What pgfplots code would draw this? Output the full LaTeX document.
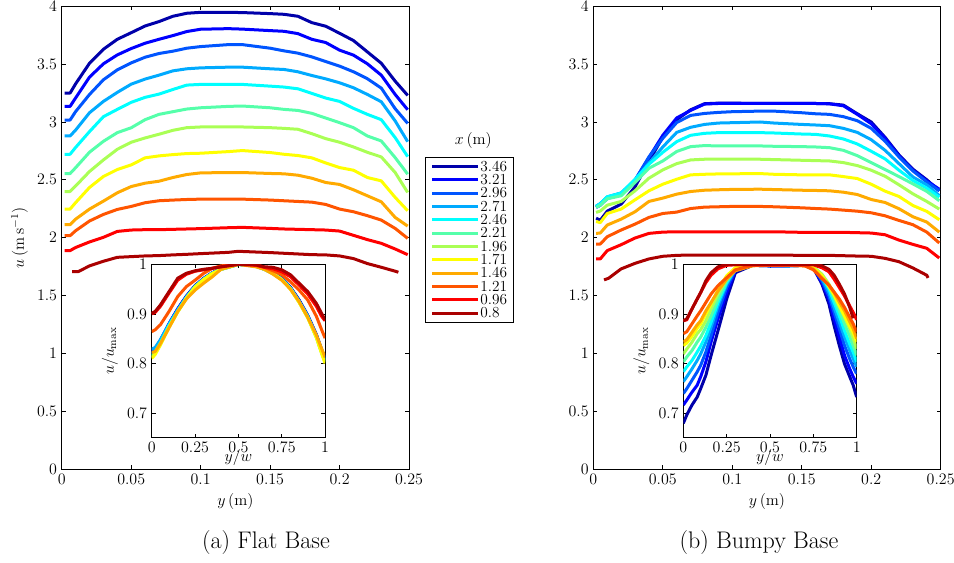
\documentclass[border=0pt]{standalone}
\usepackage{pgfplots}
\usepackage{pgfplotstable}
\pgfplotsset{compat=1.18}
\definecolor{j1}{rgb}{0,0,0.6667}
\definecolor{j2}{rgb}{0,0,1}
\definecolor{j3}{rgb}{0,0.3333,1}
\definecolor{j4}{rgb}{0,0.6667,1}
\definecolor{j5}{rgb}{0,1,1}
\definecolor{j6}{rgb}{0.3333,1,0.6667}
\definecolor{j7}{rgb}{0.6667,1,0.3333}
\definecolor{j8}{rgb}{1,1,0}
\definecolor{j9}{rgb}{1,0.6667,0}
\definecolor{j10}{rgb}{1,0.3333,0}
\definecolor{j11}{rgb}{1,0,0}
\definecolor{j12}{rgb}{0.6667,0,0}
\newcommand{\fs}{\fontsize{11.5}{13}\selectfont}

\pgfplotstableread{
x c1 c2 c3 c4 c5 c6 c7 c8 c9 c10 c11
0.002 3.250 3.135 3.017 2.879 2.721 2.554 2.399 2.247 2.112 2.017 1.888
0.006 3.250 3.135 3.017 2.879 2.721 2.554 2.399 2.247 2.112 2.017 1.888
0.010 3.330 3.208 3.090 2.930 2.780 2.605 2.447 2.303 2.160 2.060 1.915
0.020 3.508 3.388 3.238 3.080 2.917 2.739 2.572 2.434 2.247 2.144 1.963
0.030 3.629 3.503 3.365 3.178 3.046 2.833 2.672 2.529 2.316 2.201 2.003
0.040 3.715 3.580 3.451 3.256 3.109 2.908 2.764 2.589 2.388 2.244 2.054
0.050 3.772 3.635 3.511 3.327 3.170 2.950 2.825 2.629 2.442 2.270 2.066
0.060 3.830 3.681 3.560 3.371 3.213 3.020 2.862 2.690 2.471 2.302 2.069
0.070 3.868 3.715 3.592 3.405 3.241 3.066 2.894 2.707 2.488 2.319 2.069
0.080 3.914 3.747 3.612 3.442 3.281 3.089 2.928 2.718 2.520 2.325 2.072
0.090 3.940 3.782 3.638 3.460 3.319 3.112 2.951 2.727 2.546 2.330 2.075
0.100 3.948 3.802 3.652 3.468 3.325 3.123 2.957 2.730 2.560 2.333 2.078
0.120 3.948 3.807 3.669 3.474 3.325 3.135 2.957 2.744 2.563 2.333 2.086
0.130 3.946 3.803 3.669 3.474 3.325 3.138 2.957 2.753 2.563 2.333 2.089
0.150 3.937 3.790 3.638 3.460 3.310 3.123 2.951 2.736 2.555 2.325 2.080
0.160 3.931 3.784 3.615 3.454 3.302 3.109 2.945 2.721 2.552 2.319 2.075
0.170 3.914 3.764 3.595 3.434 3.287 3.100 2.937 2.710 2.540 2.313 2.072
0.180 3.859 3.715 3.563 3.402 3.247 3.075 2.899 2.690 2.514 2.307 2.069
0.190 3.828 3.687 3.523 3.373 3.207 3.034 2.856 2.646 2.477 2.287 2.066
0.200 3.767 3.621 3.483 3.339 3.178 2.994 2.825 2.606 2.460 2.247 2.057
0.210 3.704 3.578 3.434 3.296 3.118 2.951 2.784 2.583 2.414 2.224 2.020
0.220 3.606 3.503 3.374 3.238 3.066 2.879 2.738 2.520 2.362 2.190 1.983
0.230 3.508 3.405 3.293 3.175 3.020 2.836 2.698 2.491 2.310 2.152 1.951
0.240 3.353 3.238 3.115 3.009 2.865 2.692 2.563 2.348 2.175 2.080 1.902
0.249 3.230 3.106 2.988 2.830 2.701 2.549 2.391 2.233 2.100 1.994 1.853
}\flatmain

\pgfplotstableread{
x c1 c2 c3 c4 c5 c6 c7 c8 c9 c10 c11
0.002 2.169 2.261 2.267 2.273 2.270 2.261 2.218 2.140 2.037 1.945 1.816
0.005 2.150 2.280 2.290 2.295 2.292 2.280 2.230 2.130 2.040 1.945 1.816
0.010 2.229 2.339 2.347 2.353 2.353 2.336 2.281 2.209 2.109 2.008 1.888
0.020 2.290 2.370 2.382 2.387 2.385 2.362 2.313 2.247 2.160 2.066 1.939
0.030 2.439 2.497 2.497 2.497 2.505 2.477 2.405 2.327 2.224 2.117 1.997
0.040 2.660 2.692 2.698 2.646 2.635 2.600 2.514 2.405 2.313 2.175 2.037
0.050 2.870 2.885 2.859 2.784 2.738 2.663 2.586 2.462 2.342 2.209 2.048
0.060 3.020 3.035 2.995 2.910 2.830 2.745 2.640 2.505 2.376 2.221 2.051
0.070 3.105 3.100 3.057 2.954 2.885 2.787 2.672 2.543 2.399 2.252 2.051
0.080 3.158 3.155 3.074 2.979 2.902 2.796 2.678 2.548 2.410 2.264 2.051
0.090 3.163 3.160 3.083 2.991 2.908 2.793 2.678 2.551 2.414 2.267 2.051
0.100 3.163 3.160 3.089 2.994 2.908 2.793 2.678 2.552 2.417 2.270 2.051
0.120 3.160 3.160 3.094 3.000 2.908 2.793 2.678 2.554 2.419 2.270 2.051
0.130 3.160 3.160 3.094 2.991 2.905 2.790 2.675 2.548 2.416 2.267 2.051
0.150 3.160 3.160 3.080 2.979 2.896 2.787 2.669 2.543 2.410 2.258 2.046
0.160 3.160 3.160 3.071 2.974 2.893 2.784 2.666 2.543 2.408 2.252 2.046
0.170 3.158 3.157 3.066 2.968 2.879 2.778 2.663 2.543 2.405 2.247 2.046
0.180 3.146 3.140 3.046 2.945 2.853 2.755 2.649 2.528 2.393 2.238 2.046
0.190 3.071 3.066 3.011 2.910 2.810 2.709 2.623 2.511 2.373 2.229 2.043
0.200 3.000 2.985 2.945 2.847 2.747 2.649 2.583 2.462 2.330 2.215 2.040
0.210 2.867 2.859 2.833 2.755 2.681 2.589 2.531 2.402 2.304 2.189 2.025
0.220 2.715 2.706 2.698 2.640 2.583 2.528 2.457 2.356 2.250 2.149 1.979
0.230 2.592 2.583 2.577 2.525 2.494 2.465 2.379 2.278 2.181 2.112 1.942
0.240 2.500 2.491 2.482 2.456 2.428 2.400 2.313 2.227 2.135 2.048 1.908
0.249 2.405 2.419 2.405 2.364 2.350 2.319 2.247 2.155 2.048 1.954 1.824
}\bumpymain

\pgfplotstableread{
x c1 c2 c3 c4 c5 c6 c7 c8 c9 c10 c11 c12
0.00 0.820 0.822 0.825 0.829 0.818 0.815 0.812 0.810 0.822 0.864 0.900 0.901
0.02 0.826 0.828 0.830 0.832 0.824 0.822 0.820 0.818 0.824 0.868 0.903 0.905
0.05 0.845 0.846 0.847 0.848 0.842 0.840 0.838 0.837 0.840 0.878 0.915 0.918
0.10 0.880 0.880 0.880 0.879 0.877 0.875 0.874 0.873 0.872 0.905 0.942 0.945
0.15 0.910 0.910 0.909 0.908 0.906 0.905 0.904 0.904 0.905 0.935 0.968 0.972
0.20 0.936 0.935 0.934 0.934 0.933 0.932 0.932 0.931 0.930 0.955 0.980 0.982
0.25 0.957 0.956 0.956 0.955 0.955 0.955 0.954 0.954 0.948 0.968 0.986 0.987
0.30 0.972 0.971 0.971 0.970 0.970 0.970 0.970 0.969 0.962 0.982 0.989 0.990
0.35 0.983 0.983 0.982 0.982 0.982 0.982 0.982 0.981 0.975 0.992 0.992 0.992
0.40 0.991 0.991 0.990 0.990 0.990 0.990 0.990 0.990 0.990 0.997 0.995 0.995
0.50 1.000 1.000 1.000 1.000 1.000 1.000 1.000 1.000 1.000 1.000 1.000 1.000
0.60 0.997 0.997 0.997 0.996 0.997 0.997 0.997 0.997 0.995 0.999 0.998 0.999
0.65 0.991 0.990 0.990 0.990 0.990 0.990 0.990 0.990 0.990 0.994 0.994 0.995
0.70 0.983 0.982 0.982 0.981 0.982 0.982 0.981 0.981 0.980 0.987 0.991 0.994
0.75 0.972 0.971 0.970 0.970 0.970 0.969 0.969 0.969 0.968 0.979 0.985 0.989
0.80 0.954 0.953 0.952 0.952 0.952 0.951 0.951 0.950 0.950 0.965 0.975 0.979
0.85 0.928 0.927 0.926 0.925 0.925 0.924 0.924 0.923 0.925 0.948 0.958 0.962
0.90 0.897 0.896 0.895 0.895 0.894 0.893 0.893 0.892 0.893 0.928 0.940 0.945
0.95 0.858 0.857 0.856 0.855 0.854 0.853 0.852 0.852 0.857 0.895 0.915 0.921
0.98 0.828 0.827 0.826 0.825 0.823 0.822 0.821 0.820 0.830 0.868 0.895 0.901
1.00 0.810 0.808 0.810 0.808 0.805 0.803 0.802 0.800 0.812 0.851 0.886 0.888
}\flatins

\pgfplotstableread{
x c1 c2 c3 c4 c5 c6 c7 c8 c9 c10 c11 c12
0.00 0.679 0.716 0.739 0.763 0.783 0.803 0.819 0.836 0.843 0.860 0.886 0.886
0.02 0.696 0.726 0.749 0.773 0.793 0.813 0.829 0.841 0.848 0.864 0.888 0.890
0.05 0.716 0.742 0.766 0.789 0.806 0.826 0.843 0.855 0.863 0.880 0.910 0.910
0.08 0.732 0.756 0.783 0.806 0.823 0.843 0.860 0.871 0.878 0.896 0.930 0.930
0.10 0.749 0.773 0.796 0.819 0.835 0.853 0.868 0.880 0.886 0.906 0.943 0.943
0.13 0.776 0.803 0.823 0.843 0.856 0.873 0.886 0.900 0.906 0.923 0.963 0.967
0.16 0.816 0.843 0.856 0.873 0.883 0.896 0.910 0.920 0.923 0.940 0.978 0.983
0.20 0.866 0.890 0.903 0.916 0.923 0.930 0.940 0.948 0.946 0.957 0.991 0.995
0.25 0.930 0.943 0.953 0.960 0.963 0.967 0.971 0.977 0.970 0.973 0.998 1.000
0.30 0.983 0.987 0.989 0.990 0.991 0.991 0.993 0.993 0.987 0.989 0.999 1.000
0.40 0.998 0.998 0.998 0.998 0.998 0.998 0.998 0.998 0.997 0.998 0.999 1.000
0.50 0.997 0.997 0.998 0.997 0.998 0.998 0.998 0.998 0.998 0.998 0.999 1.000
0.60 0.997 0.997 0.997 0.998 0.997 0.998 0.998 0.998 0.998 0.998 0.999 1.000
0.70 0.998 0.998 0.998 0.998 0.998 0.998 0.998 0.998 0.997 0.997 0.999 1.000
0.75 0.993 0.993 0.993 0.995 0.995 0.995 0.995 0.993 0.991 0.989 0.999 1.000
0.80 0.960 0.963 0.967 0.971 0.975 0.978 0.980 0.977 0.973 0.971 0.993 0.997
0.84 0.920 0.930 0.936 0.943 0.950 0.955 0.960 0.955 0.958 0.958 0.985 0.990
0.87 0.876 0.890 0.903 0.913 0.923 0.931 0.938 0.938 0.943 0.944 0.970 0.978
0.90 0.836 0.853 0.870 0.883 0.896 0.906 0.916 0.916 0.924 0.930 0.953 0.960
0.93 0.799 0.816 0.836 0.853 0.866 0.880 0.893 0.896 0.906 0.913 0.936 0.940
0.96 0.773 0.789 0.809 0.826 0.839 0.855 0.870 0.875 0.884 0.893 0.916 0.913
0.98 0.756 0.773 0.793 0.809 0.823 0.836 0.851 0.862 0.870 0.880 0.903 0.891
1.00 0.732 0.759 0.779 0.793 0.803 0.816 0.829 0.843 0.850 0.863 0.888 nan
}\bumpyins

\pgfplotsset{
  mystyle/.style={
    scale only axis,
    axis line style={black, line width=0.6pt},
    tick style={black, line width=0.5pt},
    tick align=inside,
    major tick length=3pt,
    tick label style={font=\fs},
    label style={font=\fs},
    every axis plot/.append style={line width=2.25pt, no marks, line join=round},
    unbounded coords=jump,
    scaled ticks=false,
    xticklabel style={/pgf/number format/fixed, /pgf/number format/precision=2},
    yticklabel style={/pgf/number format/fixed, /pgf/number format/precision=2},
  },
  mainax/.style={mystyle, anchor=south west, width=260.5pt, height=347pt,
    xmin=0, xmax=0.25, ymin=0, ymax=4,
    xtick={0,0.05,0.1,0.15,0.2,0.25},
    ytick={0,0.5,1,1.5,2,2.5,3,3.5,4},
    xlabel={$y\,(\mathrm{m})$}},
  insax/.style={mystyle, anchor=south west, width=130pt, height=130pt,
    xmin=0, xmax=1, ymin=0.65, ymax=1,
    xtick={0,0.25,0.5,0.75,1}, ytick={0.7,0.8,0.9,1},
    xlabel={$y/w$}, ylabel={$u/u_{\max}$},
    xlabel style={at={(axis description cs:0.5,0)}, anchor=north, yshift=-5pt},
    axis background/.style={fill=white}},
}

\begin{document}
\begin{tikzpicture}
\useasboundingbox (0,0) rectangle (715.5pt,422.25pt);

% ---- (a) Flat base main
\begin{axis}[mainax, at={(46.3pt,70.5pt)},
  ylabel={$u\,(\mathrm{m\,s^{-1}})$},
  legend cell align=left,
  legend image code/.code={\draw[#1, line width=2.25pt] (0pt,0pt) -- (34pt,0pt);},
  legend style={at={(1.046,0.675)}, anchor=north west, draw=black, line width=0.6pt,
    fill=white, font=\fs, inner xsep=4pt, inner ysep=2pt, row sep=0pt,
    nodes={inner sep=1pt, text height=7.5pt, text depth=0.5pt}}]
\addplot[j1] table[x=x,y=c1]{\flatmain};
\addplot[j2] table[x=x,y=c2]{\flatmain};
\addplot[j3] table[x=x,y=c3]{\flatmain};
\addplot[j4] table[x=x,y=c4]{\flatmain};
\addplot[j5] table[x=x,y=c5]{\flatmain};
\addplot[j6] table[x=x,y=c6]{\flatmain};
\addplot[j7] table[x=x,y=c7]{\flatmain};
\addplot[j8] table[x=x,y=c8]{\flatmain};
\addplot[j9] table[x=x,y=c9]{\flatmain};
\addplot[j10] table[x=x,y=c10]{\flatmain};
\addplot[j11] table[x=x,y=c11]{\flatmain};
\addplot[j12] coordinates {(0.0074,1.707)(0.012,1.707)(0.02,1.756)(0.03,1.796)(0.04,1.83)(0.05,1.836)(0.06,1.842)(0.07,1.845)(0.08,1.851)(0.09,1.856)(0.10,1.862)(0.12,1.873)(0.127,1.882)(0.15,1.871)(0.16,1.865)(0.17,1.859)(0.18,1.853)(0.19,1.851)(0.20,1.842)(0.21,1.819)(0.22,1.776)(0.23,1.744)(0.24,1.71)(0.2423,1.701)};
\legend{3.46,3.21,2.96,2.71,2.46,2.21,1.96,1.71,1.46,1.21,0.96,0.8}
\end{axis}

% ---- (a) inset
\begin{axis}[insax, at={(113.8pt,94pt)}]
\addplot[j1] table[x=x,y=c1]{\flatins};
\addplot[j2] table[x=x,y=c2]{\flatins};
\addplot[j3] table[x=x,y=c3]{\flatins};
\addplot[j4] table[x=x,y=c4]{\flatins};
\addplot[j5] table[x=x,y=c5]{\flatins};
\addplot[j6] table[x=x,y=c6]{\flatins};
\addplot[j7] table[x=x,y=c7]{\flatins};
\addplot[j8] table[x=x,y=c8]{\flatins};
\addplot[j9] table[x=x,y=c9]{\flatins};
\addplot[j10] table[x=x,y=c10]{\flatins};
\addplot[j11] table[x=x,y=c11]{\flatins};
\addplot[j12] table[x=x,y=c12]{\flatins};
\end{axis}

% ---- (b) Bumpy base main
\begin{axis}[mainax, at={(445pt,70.5pt)}]
\addplot[j1] table[x=x,y=c1]{\bumpymain};
\addplot[j2] table[x=x,y=c2]{\bumpymain};
\addplot[j3] table[x=x,y=c3]{\bumpymain};
\addplot[j4] table[x=x,y=c4]{\bumpymain};
\addplot[j5] table[x=x,y=c5]{\bumpymain};
\addplot[j6] table[x=x,y=c6]{\bumpymain};
\addplot[j7] table[x=x,y=c7]{\bumpymain};
\addplot[j8] table[x=x,y=c8]{\bumpymain};
\addplot[j9] table[x=x,y=c9]{\bumpymain};
\addplot[j10] table[x=x,y=c10]{\bumpymain};
\addplot[j11] table[x=x,y=c11]{\bumpymain};
\addplot[j12] coordinates {(0.0077,1.635)(0.011,1.649)(0.02,1.73)(0.03,1.778)(0.04,1.816)(0.05,1.839)(0.06,1.847)(0.07,1.85)(0.10,1.85)(0.13,1.85)(0.15,1.847)(0.17,1.847)(0.18,1.844)(0.19,1.841)(0.20,1.839)(0.21,1.821)(0.22,1.792)(0.23,1.738)(0.24,1.675)(0.2409,1.652)};
\end{axis}

% ---- (b) inset
\begin{axis}[insax, at={(512.5pt,94pt)}]
\addplot[j1] table[x=x,y=c1]{\bumpyins};
\addplot[j2] table[x=x,y=c2]{\bumpyins};
\addplot[j3] table[x=x,y=c3]{\bumpyins};
\addplot[j4] table[x=x,y=c4]{\bumpyins};
\addplot[j5] table[x=x,y=c5]{\bumpyins};
\addplot[j6] table[x=x,y=c6]{\bumpyins};
\addplot[j7] table[x=x,y=c7]{\bumpyins};
\addplot[j8] table[x=x,y=c8]{\bumpyins};
\addplot[j9] table[x=x,y=c9]{\bumpyins};
\addplot[j10] table[x=x,y=c10]{\bumpyins};
\addplot[j11] table[x=x,y=c11]{\bumpyins};
\addplot[j12] table[x=x,y=c12]{\bumpyins};
\end{axis}

\node[font=\fs, anchor=base] at (355pt,313.5pt) {$x\,(\mathrm{m})$};
\node[font=\fontsize{18}{22}\selectfont, anchor=base] at (199.5pt,11pt) {(a) Flat Base};
\node[font=\fontsize{18}{22}\selectfont, anchor=base] at (569.25pt,11pt) {(b) Bumpy Base};
\end{tikzpicture}
\end{document}
